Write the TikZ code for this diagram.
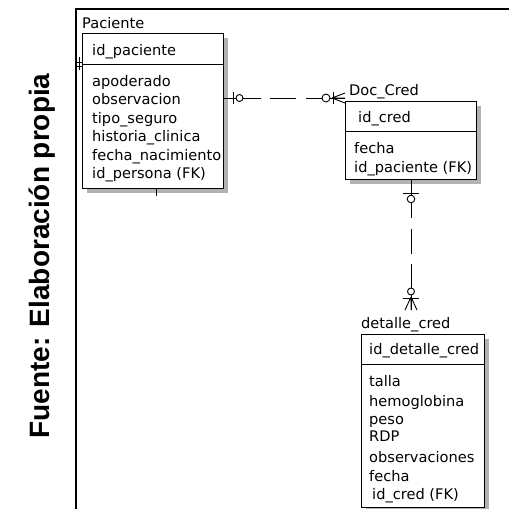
\documentclass[tikz,border=0pt]{standalone}
\usepackage{fontspec}
\setmainfont{DejaVu Sans}
\newfontfamily\srcfont{Liberation Sans}
\usetikzlibrary{shadows}
\begin{document}
\begin{tikzpicture}[x=1pt,y=-1pt,
  entbox/.style={draw=black,line width=1pt,fill=white,inner sep=0pt,anchor=north west,
    drop shadow={shadow xshift=4pt,shadow yshift=-4pt,fill=gray!60,opacity=1,draw=none}},
  txt/.style={anchor=base west,inner sep=0pt,font=\fontsize{14.6}{16}\selectfont},
  rel/.style={line width=0.9pt},
  sym/.style={line width=0.9pt},
  frame/.style={line width=1.8pt}]
\useasboundingbox (0,0) rectangle (509,509);
% outer frame
\draw[frame] (76,509) -- (76,9) -- (509,9);
% source text
\node[rotate=90,anchor=base,inner sep=0pt,font=\srcfont\bfseries\fontsize{28}{30}\selectfont] (src) at (49,256) {Fuente: Elaboración propia};
% ---------- Paciente ----------
\node[txt] (pacl) at (82,28) {Paciente};
\node[entbox,minimum width=141pt,minimum height=155pt] (pac) at (82,33) {};
\coordinate (pacdiv) at (0,64);
\draw[line width=1pt] (pac.west |- pacdiv) -- (pac.east |- pacdiv);
\node[txt] (p0) at (92,55) {id\_paciente};
\node[txt] (p1) at (92,86) {apoderado};
\node[txt] (p2) at (92,104.5) {observacion};
\node[txt] (p3) at (92,123) {tipo\_seguro};
\node[txt] (p4) at (92,141.5) {historia\_clinica};
\node[txt] (p5) at (92,160) {fecha\_nacimiento};
\node[txt] (p6) at (92,178.5) {id\_persona (FK)};
% small marks
\draw[sym] (76,62) -- (82,62) (76,66) -- (82,66) (79,57) -- (79,70);
\draw[sym] (156,188) -- (156,196);
% ---------- Doc_Cred ----------
\node[txt] (docl) at (349,95) {Doc\_Cred};
\node[entbox,minimum width=131pt,minimum height=78pt] (doc) at (345,101) {};
\coordinate (docdiv) at (0,131);
\draw[line width=1pt] (doc.west |- docdiv) -- (doc.east |- docdiv);
\node[txt] (d0) at (358,122) {id\_cred};
\node[txt] (d1) at (354,153) {fecha};
\node[txt] (d2) at (354,172) {id\_paciente (FK)};
% ---------- detalle_cred ----------
\node[txt] (detl) at (361,328) {detalle\_cred};
\node[entbox,minimum width=123pt,minimum height=173pt] (det) at (361,334) {};
\coordinate (detdiv) at (0,364);
\draw[line width=1pt] (det.west |- detdiv) -- (det.east |- detdiv);
\node[txt] (e0) at (369,354) {id\_detalle\_cred};
\node[txt] (e1) at (369,386) {talla};
\node[txt] (e2) at (369,406) {hemoglobina};
\node[txt] (e3) at (369,424) {peso};
\node[txt] (e4) at (369,441) {RDP};
\node[txt] (e5) at (369,462) {observaciones};
\node[txt] (e6) at (369,481) {fecha};
\node[txt] (e7) at (372,499) {id\_cred (FK)};
% ---------- relation Paciente - Doc_Cred ----------
\coordinate (r1) at (0,98);
\draw[rel,dash pattern=on 37pt off 9pt on 26pt off 10pt on 80pt] (pac.east |- r1) -- (doc.west |- r1);
\draw[sym] (233,92) -- (233,104);
\draw[sym,fill=white] (239.5,98) circle (3.5pt);
\draw[sym,fill=white] (326,98) circle (4pt);
\draw[sym] (333,92) -- (333,104);
\draw[sym] (332,98) -- (345,93) (332,98) -- (345,98) (332,98) -- (345,103);
% ---------- relation Doc_Cred - detalle_cred ----------
\coordinate (r2end) at (doc.south |- 0,310);
\draw[rel,dash pattern=on 38pt off 11pt on 25pt off 10pt on 80pt] (doc.south) -- (r2end);
\draw[sym] ([xshift=-8pt]doc.south |- 0,193) -- ([xshift=8pt]doc.south |- 0,193);
\draw[sym,fill=white] (doc.south |- 0,199) circle (3.8pt);
\draw[sym,fill=white] (doc.south |- 0,291.5) circle (3.5pt);
\draw[sym] ([xshift=-8pt]doc.south |- 0,298) -- ([xshift=8pt]doc.south |- 0,298);
\draw[sym] (doc.south |- 0,297) -- ([xshift=-6pt]r2end) (doc.south |- 0,297) -- (r2end) (doc.south |- 0,297) -- ([xshift=6pt]r2end);
\end{tikzpicture}
\end{document}
